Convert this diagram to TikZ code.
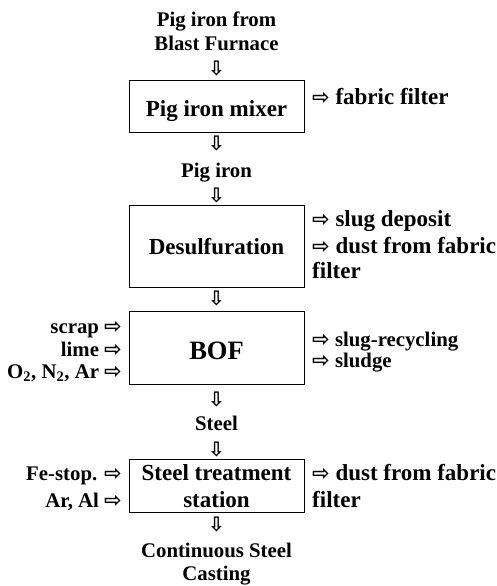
\documentclass[tikz,border=0pt]{standalone}
\usepackage{fontspec}
\setmainfont{Liberation Serif}
\newfontfamily\arrfont{DejaVu Sans Bold}
\newcommand\myra{{\fontsize{21}{21}\selectfont\arrfont ⇨}}
\tikzset{
  lbl/.style={font=\fontsize{20.8}{24}\selectfont\bfseries, inner sep=0pt, anchor=base},
  lblB/.style={font=\fontsize{23}{26}\selectfont\bfseries, inner sep=0pt, anchor=base},
  lblL/.style={lbl, anchor=base east},
  lblR/.style={lblB, anchor=base west},
  box/.style={draw, line width=0.8pt, inner sep=0pt},
  darr/.style={font=\fontsize{20}{20}\selectfont\arrfont, inner sep=0pt, anchor=center}
}
\begin{document}
\begin{tikzpicture}[x=1pt,y=-1pt]
\useasboundingbox (0,0) rectangle (496,586);
% boxes
\node[box, minimum width=175pt, minimum height=52pt] (mixer) at (216.5,106) {};
\node[box, minimum width=175pt, minimum height=82pt] (desulf) at (216.5,246) {};
\node[box, minimum width=175pt, minimum height=73pt] (bof) at (216.5,347.5) {};
\node[box, minimum width=175pt, minimum height=53pt] (sts) at (216.5,485.5) {};
% center texts
\node[lbl] (t1) at (216.5,27) {Pig iron from};
\node[lbl] (t2) at (216.5,50.5) {Blast Furnace};
\node[darr] (a1) at (216.5,68.5) {⇩};
\node[lblB] (mixt) at (216.5,116.5) {Pig iron mixer};
\node[darr] (a2) at (216.5,143) {⇩};
\node[lbl] (pig) at (216.5,177) {Pig iron};
\node[darr] (a3) at (216.5,195) {⇩};
\node[lblB] (dest) at (216.5,254) {Desulfuration};
\node[darr] (a4) at (216.5,298) {⇩};
\node[lbl, font=\fontsize{26.5}{30}\selectfont\bfseries] (boft) at (216.5,359) {BOF};
\node[darr] (a5) at (216.5,399) {⇩};
\node[lbl] (steel) at (216.5,430) {Steel};
\node[darr] (a6) at (216.5,449) {⇩};
\node[lblB] (sts1) at (216.5,480) {Steel treatment};
\node[lblB] (sts2) at (216.5,507) {station};
\node[darr] (a7) at (216.5,524) {⇩};
\node[lbl] (c1) at (216.5,557) {Continuous Steel};
\node[lbl] (c2) at (216.5,580) {Casting};
% right outputs
\node[lblR] (r1) at (312,104) {\myra\ fabric filter};
\node[lblR] (r2) at (312,226) {\myra\ slug deposit};
\node[lblR] (r3) at (312,253) {\myra\ dust from fabric};
\node[lblR] (r4) at (312,278) {filter};
\node[lblR, font=\fontsize{20.8}{24}\selectfont\bfseries] (r5) at (312,346) {\myra\ slug-recycling};
\node[lblR, font=\fontsize{20.8}{24}\selectfont\bfseries] (r6) at (312,367) {\myra\ sludge};
\node[lblR] (r7) at (312,480) {\myra\ dust from fabric};
\node[lblR] (r8) at (312,507) {filter};
% left inputs
\node[lblL] (l1) at (122,333) {scrap \myra};
\node[lblL] (l2) at (122,356) {lime \myra};
\node[lblL] (l3) at (122,378) {O\textsubscript{2}, N\textsubscript{2}, Ar \myra};
\node[lblL] (l4) at (122,480) {Fe-stop. \myra};
\node[lblL] (l5) at (122,507) {Ar, Al \myra};
\end{tikzpicture}
\end{document}
